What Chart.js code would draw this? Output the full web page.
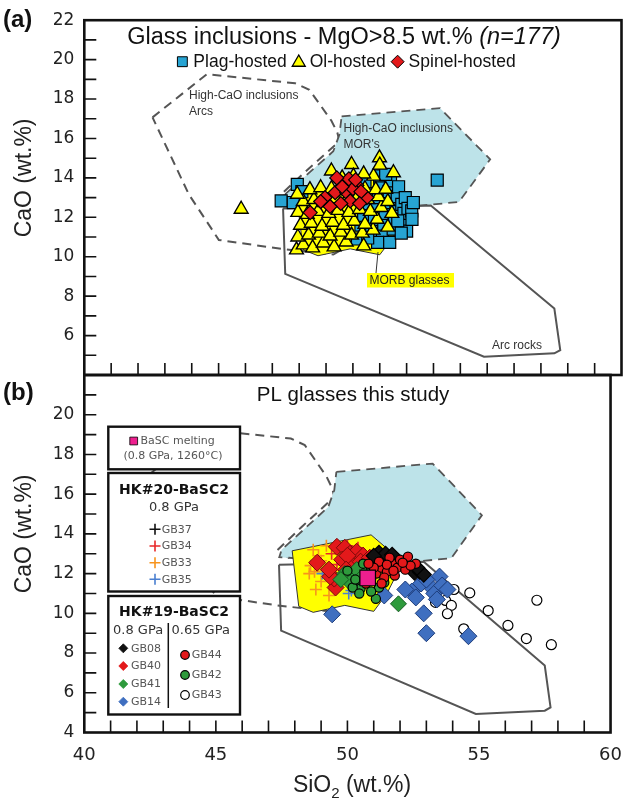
<!DOCTYPE html>
<html>
<head>
<meta charset="utf-8">
<script src="https://cdn.jsdelivr.net/npm/chart.js@4/dist/chart.umd.min.js"></script>
<style>
  body { margin: 0; background: #fff; }
  #wrap { position: relative; width: 634px; height: 803px; }
  #wrap canvas { position: absolute; left: 0; top: 0; }
</style>
</head>
<body>
<div id="wrap">
  <canvas id="chartA" width="634" height="803"></canvas>
  <canvas id="chartB" width="634" height="803"></canvas>
</div>
<script>
// axes
var sio2Ticks = [40, 45, 50, 55, 60];
var caoTicksA = [6, 8, 10, 12, 14, 16, 18, 20, 22];
var caoTicksB = [4, 6, 8, 10, 12, 14, 16, 18, 20];

// compositional fields [SiO2, CaO]
var fieldArcs = [[42.54,17.07],[44.56,19.26],[47.85,18.8],[48.38,18.47],[49.2,16.9],[49.42,16.3],[49.5,15.86],[48.3,14.4],[47.33,13.17],[48.0,12.6],[49.5,11.2],[49.72,10.48],[49.27,10.11],[47.33,10.4],[45.01,10.85],[43.89,13.17],[42.54,17.07]];
var fieldMor = [[49.58,17.12],[53.24,17.54],[55.11,14.94],[53.95,12.78],[52.42,12.58],[50.0,12.6],[47.41,12.83],[47.5,13.2],[49.27,15.35],[49.5,16.2],[49.58,17.12]];
var fieldArcRocks = [[47.4,12.45],[52.9,12.6],[57.5,7.37],[57.72,5.26],[57.5,5.1],[54.88,4.93],[47.48,9.13],[47.4,12.45]];
var fieldMorb = [[47.9,13.15],[50.9,13.95],[52.0,12.7],[52.0,12.3],[51.5,11.0],[51.0,10.1],[49.9,10.4],[48.7,10.05],[48.15,10.35],[47.9,13.15]];

// (a) glass inclusions, MgO > 8.5 wt.%
var plagHosted = [[47.33,12.83],[47.78,12.75],[47.93,13.67],[48.1,13.3],[50.3,11.6],[50.4,12.1],[50.5,12.7],[50.6,13.2],[50.45,13.8],[50.7,11.3],[50.8,11.9],[50.85,12.45],[50.95,13.0],[51.0,13.6],[51.0,14.1],[51.1,11.1],[51.15,11.65],[51.2,12.2],[51.3,12.75],[51.35,13.3],[51.4,13.85],[51.22,14.18],[51.5,11.4],[51.55,11.95],[51.6,12.5],[51.65,13.05],[51.7,13.55],[51.82,12.66],[51.85,11.75],[51.9,12.2],[51.95,13.0],[52.0,11.3],[52.05,12.45],[52.19,12.33],[52.2,11.9],[52.25,12.75],[51.67,11.82],[50.92,10.73],[51.37,10.73],[50.17,10.9],[50.2,13.3],[49.9,13.7],[50.55,10.95],[51.8,11.2],[53.14,13.89]];
var olHosted = [[47.9,10.35],[48.15,10.6],[48.5,10.45],[48.9,10.7],[49.3,10.5],[49.75,10.75],[50.4,10.55],[47.95,11.0],[48.35,11.1],[48.75,11.2],[49.15,11.05],[49.55,11.25],[49.95,11.1],[50.35,11.2],[50.75,11.35],[48.05,11.6],[48.45,11.7],[48.85,11.55],[49.25,11.75],[49.65,11.6],[50.05,11.8],[50.45,11.65],[50.9,11.9],[51.3,11.5],[47.95,12.25],[48.3,12.15],[48.7,12.3],[49.1,12.2],[49.45,12.35],[49.85,12.25],[50.25,12.4],[50.65,12.3],[51.05,12.5],[51.45,12.2],[48.15,12.8],[48.55,12.9],[48.95,12.75],[49.35,12.95],[49.75,12.85],[50.15,13.0],[50.55,12.9],[50.95,13.05],[51.3,12.8],[47.93,13.17],[48.4,13.4],[48.8,13.5],[49.2,13.45],[49.6,13.35],[50.05,13.55],[50.45,13.45],[50.85,13.4],[51.22,13.42],[49.2,14.35],[49.95,14.68],[50.02,14.09],[50.77,14.09],[50.99,15.02],[51.0,14.65],[51.51,14.26],[50.4,14.2],[49.6,14.0],[45.84,12.41]];
var spinelHosted = [[49.52,13.84],[48.96,13.0],[49.34,13.25],[49.77,13.25],[50.15,13.62],[50.52,13.0],[48.41,12.24],[49.9,12.83],[49.55,12.7],[50.0,13.45],[49.6,13.55],[50.3,13.3],[49.15,12.55],[50.25,12.7],[49.85,13.95],[49.4,14.0],[48.8,12.8],[50.1,13.9]];

// (b) PL glasses this study
var bascMelt = [[50.77,11.78]];
var gb37 = [[51.4,12.9],[51.8,12.6],[52.4,12.2],[51.1,12.95]];
var gb34 = [[49.2,12.2],[49.6,12.45],[50.0,13.4],[49.7,11.9],[50.4,13.3],[49.4,13.0]];
var gb33 = [[48.7,13.2],[48.9,12.9],[48.6,12.4],[49.0,11.6],[48.8,11.2],[49.2,13.4],[48.55,12.0],[49.3,10.9],[48.75,12.1],[49.0,12.65]];
var gb35 = [[50.05,11.0],[49.35,11.7],[50.15,11.15],[49.05,12.0]];
var gb08 = [[51.2,13.05],[51.35,12.85],[51.55,12.7],[51.45,13.0],[51.7,12.95],[52.55,12.05],[52.75,12.1],[52.9,11.95],[52.65,12.3],[51.0,12.9]];
var gb40 = [[48.85,12.55],[49.55,11.3],[49.5,11.75],[49.6,13.35],[49.9,13.3],[50.1,13.0],[50.35,13.1],[50.6,12.9],[49.8,12.7],[50.2,12.4],[50.5,12.6],[50.85,12.8],[49.35,11.85],[50.0,12.9],[49.3,12.2],[49.95,12.2]];
var gb41 = [[51.94,10.48],[49.9,12.0],[50.25,11.8],[50.5,11.45],[50.1,11.55],[49.75,11.7],[50.35,12.2],[50.65,11.95]];
var gb14 = [[49.42,9.95],[51.4,10.9],[52.45,11.1],[52.9,10.0],[53.0,9.0],[54.6,8.85],[53.2,11.3],[53.5,11.85],[52.8,11.5],[53.3,11.0],[53.6,11.4],[53.0,11.7],[52.6,10.8],[53.8,11.2],[53.4,10.7],[52.2,11.2]];
var gb44 = [[50.9,11.7],[51.1,12.0],[51.3,12.3],[51.5,12.1],[51.7,12.5],[51.9,12.3],[52.0,12.7],[52.3,12.85],[52.6,12.5],[51.4,11.8],[51.2,12.6],[51.6,12.8],[51.8,11.9],[52.2,12.2],[51.0,12.3],[50.8,12.5],[52.4,12.4],[51.5,12.45],[50.7,11.5],[51.3,11.5],[52.1,12.55],[51.75,12.15]];
var gb42 = [[51.08,10.73],[50.5,11.25],[50.7,11.9],[50.2,11.3],[50.0,12.15],[50.9,12.3],[50.6,12.5],[51.2,11.3],[50.9,11.1],[50.45,11.0],[51.4,11.55],[50.3,11.7]];
var gb43 = [[54.65,11.03],[55.35,10.14],[56.1,9.39],[56.8,8.73],[57.2,10.66],[57.75,8.42],[54.42,9.22],[54.05,11.2],[53.73,10.65],[53.35,10.55],[53.95,10.4],[53.8,9.98]];

var SANS = '"Liberation Sans", Arial, sans-serif';
var VERD = '"DejaVu Sans", Verdana, sans-serif';
Chart.defaults.font.family = VERD;

function xy(list) {
  return list.map(function(p) { return { x: p[0], y: p[1] }; });
}

function fieldSets() {
  return [
    { type: 'line', data: xy(fieldArcs), borderColor: '#555', borderWidth: 2, borderDash: [9, 6], pointRadius: 0, fill: false, order: 10 },
    { type: 'line', data: xy(fieldMor), borderColor: '#555', borderWidth: 1.8, borderDash: [9, 6], backgroundColor: '#bde3e9', pointRadius: 0, fill: 'shape', order: 9 },
    { type: 'line', data: xy(fieldArcRocks), borderColor: '#555', borderWidth: 2, pointRadius: 0, fill: false, order: 8 },
    { type: 'line', data: xy(fieldMorb), borderColor: '#333', borderWidth: 1, backgroundColor: '#ffff00', pointRadius: 0, fill: 'shape', order: 7 }
  ];
}

function marks(list, style, r, color, order, edge, width) {
  return {
    data: xy(list),
    pointStyle: style,
    pointRadius: r,
    pointBackgroundColor: color,
    pointBorderColor: edge || '#000',
    pointBorderWidth: width || 1.2,
    showLine: false,
    order: order
  };
}

function scales(yTicks, showX) {
  return {
    x: {
      type: 'linear', min: 40, max: 60,
      afterBuildTicks: function(s) { s.ticks = sio2Ticks.map(function(v) { return { value: v }; }); },
      afterFit: function(s) { s.height = showX ? 70.5 : 428; },
      grid: { display: false, drawTicks: false },
      border: { display: false },
      ticks: { display: showX, font: { size: 18 }, color: '#222', padding: 12, maxRotation: 0 }
    },
    y: {
      type: 'linear', min: 4, max: 22,
      afterBuildTicks: function(s) { s.ticks = yTicks.map(function(v) { return { value: v }; }); },
      afterFit: function(s) { s.width = 84.3; },
      grid: { display: false, drawTicks: false },
      border: { display: false },
      ticks: { font: { size: 17 }, color: '#222', padding: 10 }
    }
  };
}

function text(ctx, str, x, y, font, color, align) {
  ctx.font = font;
  ctx.fillStyle = color;
  ctx.textAlign = align || 'left';
  ctx.textBaseline = 'middle';
  ctx.fillText(str, x, y);
}

function icon(ctx, style, r, x, y, fill, edge, width) {
  ctx.save();
  ctx.fillStyle = fill;
  ctx.strokeStyle = edge;
  ctx.lineWidth = width;
  Chart.helpers.drawPoint(ctx, { pointStyle: style, radius: r, borderWidth: width, rotation: 0 }, x, y);
  ctx.restore();
}

// frame, inward ticks, panel letter and CaO title
function frame(chart, letter, letterY) {
  var ctx = chart.ctx, a = chart.chartArea, x = chart.scales.x, y = chart.scales.y;
  ctx.save();
  ctx.strokeStyle = '#111';
  ctx.lineWidth = 1.6;
  ctx.beginPath();
  for (var v = 5; v <= 21; v++) {
    var py = y.getPixelForValue(v);
    ctx.moveTo(a.left, py);
    ctx.lineTo(a.left + 12, py);
  }
  for (var u = 41; u <= 59; u++) {
    var px = x.getPixelForValue(u);
    ctx.moveTo(px, a.bottom);
    ctx.lineTo(px, a.bottom - 12);
  }
  ctx.stroke();
  ctx.lineWidth = 2.6;
  ctx.strokeRect(a.left, a.top, a.right - a.left, a.bottom - a.top);

  text(ctx, letter, 3, letterY, 'bold 24px ' + SANS, '#111');
  ctx.translate(25, y.getPixelForValue(14));
  ctx.rotate(-Math.PI / 2);
  text(ctx, 'CaO (wt.%)', 0, 0, '23px ' + SANS, '#222', 'center');
  ctx.restore();
}

var panelA = {
  id: 'panelA',
  afterDraw: function(chart) {
    var ctx = chart.ctx;
    frame(chart, '(a)', 20);
    ctx.save();

    // title with italic count
    var t1 = 'Glass inclusions - MgO>8.5 wt.% ', t2 = '(n=177)';
    ctx.font = '23.5px ' + SANS;
    var w1 = ctx.measureText(t1).width;
    ctx.font = 'italic 23.5px ' + SANS;
    var w2 = ctx.measureText(t2).width;
    var x0 = 344 - (w1 + w2) / 2;
    text(ctx, t1, x0, 37.5, '23.5px ' + SANS, '#111');
    text(ctx, t2, x0 + w1, 37.5, 'italic 23.5px ' + SANS, '#111');

    // legend row, laid out left to right
    var lf = '17.5px ' + SANS;
    ctx.font = lf;
    var items = [
      ['rect', 7, '#27a4d3', 'Plag-hosted'],
      ['triangle', 7.5, '#ffff00', 'Ol-hosted'],
      ['rectRot', 6.5, '#e3191b', 'Spinel-hosted']
    ];
    var total = 0;
    items.forEach(function(it) { total += 12 + 5 + ctx.measureText(it[3]).width + 6; });
    var lx = 349 - total / 2;
    items.forEach(function(it) {
      icon(ctx, it[0], it[1], lx + 6, it[0] === 'triangle' ? 62.5 : 61.7, it[2], '#000', it[0] === 'triangle' ? 1.3 : 1);
      lx += 17;
      text(ctx, it[3], lx, 62, lf, '#111');
      ctx.font = lf;
      lx += ctx.measureText(it[3]).width + 6;
    });

    // field labels
    var f = '12px ' + SANS;
    text(ctx, 'High-CaO inclusions', 189, 96, f, '#333');
    text(ctx, 'Arcs', 189, 111.5, f, '#333');
    text(ctx, 'High-CaO inclusions', 343.5, 128.5, f, '#333');
    text(ctx, "MOR's", 343.5, 145, f, '#333');
    text(ctx, 'Arc rocks', 492, 346, f, '#333');

    ctx.strokeStyle = '#333';
    ctx.lineWidth = 1;
    ctx.beginPath();
    ctx.moveTo(376, 273);
    ctx.lineTo(378, 252);
    ctx.stroke();
    ctx.fillStyle = '#ffff00';
    ctx.fillRect(367, 273, 87, 14.5);
    text(ctx, 'MORB glasses', 369.5, 280.5, f, '#222');
    ctx.restore();
  }
};

var panelB = {
  id: 'panelB',
  afterDraw: function(chart) {
    var ctx = chart.ctx;
    ctx.save();

    // legend boxes
    ctx.fillStyle = '#fff';
    ctx.strokeStyle = '#111';
    ctx.lineWidth = 2.4;
    [[426.7, 42.6], [473, 118.5], [596, 118.5]].forEach(function(b) {
      ctx.fillRect(108.3, b[0], 131.7, b[1]);
      ctx.strokeRect(108.3, b[0], 131.7, b[1]);
    });

    var small = '11px ' + VERD;
    icon(ctx, 'rect', 5.5, 133.7, 441, '#ee1f8f', '#000', 0.8);
    text(ctx, 'BaSC melting', 140.5, 441, small, '#555');
    text(ctx, '(0.8 GPa, 1260\u00b0C)', 173, 456.5, small, '#555', 'center');

    text(ctx, 'HK#20-BaSC2', 174, 490, 'bold 14px ' + VERD, '#111', 'center');
    text(ctx, '0.8 GPa', 174, 507.7, '13px ' + VERD, '#333', 'center');
    [['GB37', '#111', 529.3], ['GB34', '#e8282a', 546], ['GB33', '#f7941d', 562.7], ['GB35', '#4a7fd0', 579.3]].forEach(function(it) {
      icon(ctx, 'cross', 5.5, 155, it[2], it[1], it[1], 1.6);
      text(ctx, it[0], 161.7, it[2] + 0.5, small, '#555');
    });

    text(ctx, 'HK#19-BaSC2', 174, 612.7, 'bold 14px ' + VERD, '#111', 'center');
    text(ctx, '0.8 GPa', 113, 630.7, '13px ' + VERD, '#333');
    text(ctx, '0.65 GPa', 171.5, 630.7, '13px ' + VERD, '#333');
    ctx.strokeStyle = '#111';
    ctx.lineWidth = 1.5;
    ctx.beginPath();
    ctx.moveTo(168.3, 623);
    ctx.lineTo(168.3, 708);
    ctx.stroke();
    [['GB08', '#111', 648.3], ['GB40', '#e3191b', 666], ['GB41', '#2e9a3c', 684], ['GB14', '#3f6fc0', 701.7]].forEach(function(it) {
      icon(ctx, 'rectRot', 4.5, 123.3, it[2], it[1], it[1], 0.8);
      text(ctx, it[0], 131, it[2] + 0.5, small, '#555');
    });
    [['GB44', '#e3191b', 655], ['GB42', '#2e9a3c', 675], ['GB43', '#fff', 695]].forEach(function(it) {
      icon(ctx, 'circle', 4.3, 185, it[2], it[1], '#000', 1.2);
      text(ctx, it[0], 191.7, it[2] + 0.5, small, '#555');
    });

    text(ctx, 'PL glasses this study', 353, 395, '20.5px ' + SANS, '#111', 'center');

    // SiO2 axis title with subscript
    var big = '23px ' + SANS, sub = '15px ' + SANS;
    ctx.font = big;
    var wa = ctx.measureText('SiO').width, wc = ctx.measureText(' (wt.%)').width;
    ctx.font = sub;
    var wb = ctx.measureText('2').width;
    var sx = 352 - (wa + wb + wc) / 2;
    text(ctx, 'SiO', sx, 786, big, '#222');
    text(ctx, '2', sx + wa, 794, sub, '#222');
    text(ctx, ' (wt.%)', sx + wa + wb, 786, big, '#222');
    ctx.restore();

    frame(chart, '(b)', 393);
  }
};

function baseOptions(yTicks, showX, padTop) {
  return {
    responsive: false,
    animation: false,
    events: [],
    layout: { padding: { top: padTop, left: 0, right: 12.5, bottom: 0 }, autoPadding: false },
    plugins: { legend: { display: false }, tooltip: { enabled: false }, title: { display: false } },
    scales: scales(yTicks, showX)
  };
}

new Chart(document.getElementById('chartA'), {
  type: 'scatter',
  data: {
    datasets: [
      marks(spinelHosted, 'rectRot', 7, '#e3191b', 1),
      marks(olHosted, 'triangle', 8, '#ffff00', 2, '#000', 1.4),
      marks(plagHosted, 'rect', 8.5, '#27a4d3', 3)
    ].concat(fieldSets())
  },
  options: baseOptions(caoTicksA, false, 18.3),
  plugins: [panelA]
});

new Chart(document.getElementById('chartB'), {
  type: 'scatter',
  data: {
    datasets: [
      marks(bascMelt, 'rect', 11, '#ee1f8f', 0),
      marks(gb44, 'circle', 4.6, '#e3191b', 1),
      marks(gb42, 'circle', 4.6, '#2e9a3c', 2),
      marks(gb08, 'rectRot', 7.5, '#111', 3),
      marks(gb14, 'rectRot', 8.5, '#3f6fc0', 4, '#1d3c7a', 1),
      marks(gb43, 'circle', 5, '#fff', 5),
      marks(gb41, 'rectRot', 8, '#2e9a3c', 6, '#145a20', 1),
      marks(gb40, 'rectRot', 8.5, '#e3191b', 6.5, '#7a0a0a', 1),
      marks(gb37, 'cross', 6, '#111', 6.6, '#111', 1.6),
      marks(gb35, 'cross', 6, '#4a7fd0', 6.7, '#4a7fd0', 1.6),
      marks(gb34, 'cross', 6, '#e8282a', 6.8, '#e8282a', 1.6),
      marks(gb33, 'cross', 6, '#f7941d', 6.9, '#f7941d', 1.6)
    ].concat(fieldSets())
  },
  options: baseOptions(caoTicksB, true, 375),
  plugins: [panelB]
});
</script>
</body>
</html>
